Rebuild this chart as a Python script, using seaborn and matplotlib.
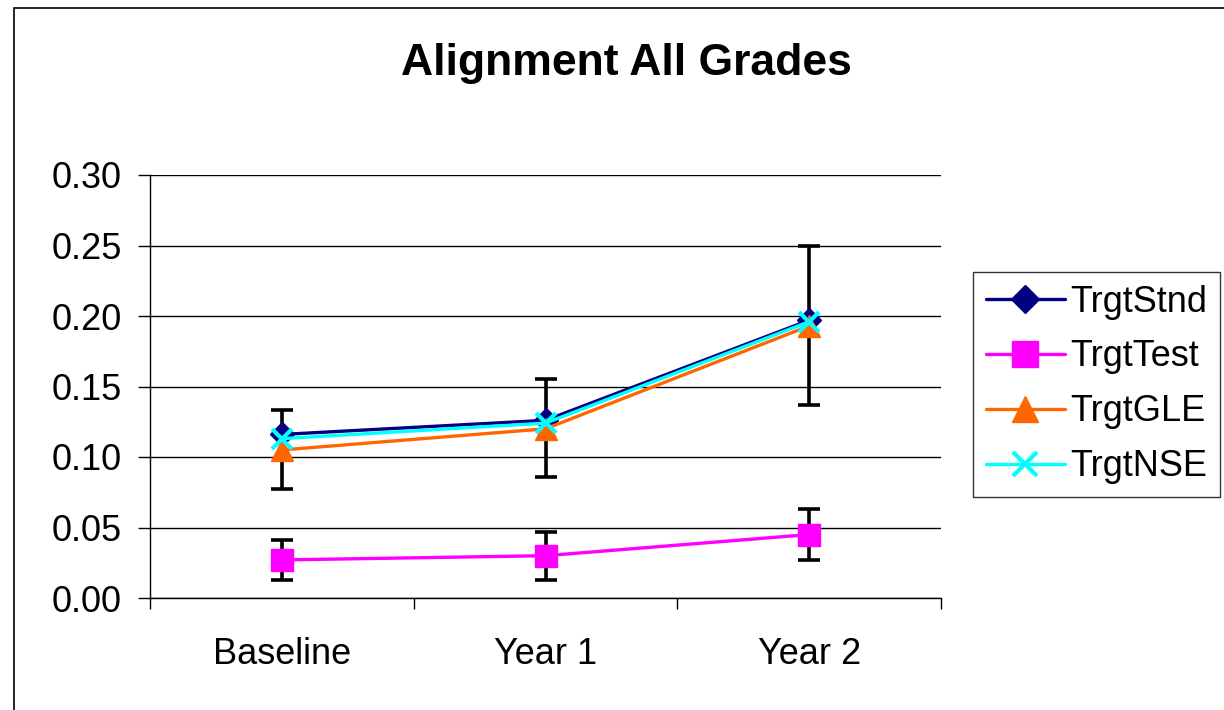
import numpy as np
import pandas as pd
import seaborn as sns
import matplotlib.pyplot as plt
from matplotlib.patches import Rectangle

periods = ["Baseline", "Year 1", "Year 2"]
trgt_stnd = [0.116, 0.126, 0.197]
trgt_test = [0.027, 0.030, 0.045]
trgt_gle = [0.105, 0.120, 0.193]
trgt_nse = [0.113, 0.124, 0.196]
# error bars (low / high ends)
err_low_all = [0.077, 0.086, 0.137]
err_high_all = [0.133, 0.155, 0.250]
err_low_test = [0.013, 0.013, 0.027]
err_high_test = [0.041, 0.047, 0.063]

sns.set_style("white")
plt.rcParams['font.family'] = ['Liberation Sans', 'DejaVu Sans']
plt.rcParams['text.color'] = 'black'
plt.rcParams['xtick.color'] = 'black'
plt.rcParams['ytick.color'] = 'black'

fig = plt.figure(figsize=(12.24, 7.1), dpi=100)
ax = fig.add_axes([150/1224, 112/710, 791/1224, 423/710])

# outer chart border (clipped on right/bottom like the source)
fig.patches.append(Rectangle((14/1224, -0.1), 1.2, (702/710) + 0.1, transform=fig.transFigure,
                             fill=False, edgecolor='black', linewidth=1.2))

x = np.arange(len(periods))
mid_all = np.array(trgt_gle)
ax.errorbar(x, mid_all, yerr=[mid_all - np.array(err_low_all), np.array(err_high_all) - mid_all],
            fmt='none', ecolor='black', elinewidth=2.6, capsize=8, capthick=2.6, zorder=2)
mid_test = np.array(trgt_test)
ax.errorbar(x, mid_test, yerr=[mid_test - np.array(err_low_test), np.array(err_high_test) - mid_test],
            fmt='none', ecolor='black', elinewidth=2.6, capsize=8, capthick=2.6, zorder=2)

series = [
    ("TrgtStnd", trgt_stnd, "#000080", "D", 12),
    ("TrgtTest", trgt_test, "#FF00FF", "s", 16),
    ("TrgtGLE", trgt_gle, "#FF6600", "^", 16),
    ("TrgtNSE", trgt_nse, "#00FFFF", "x", 14),
]
for name, vals, col, mk, ms in series:
    df = pd.DataFrame({"period": periods, "value": vals})
    sns.lineplot(data=df, x="period", y="value", ax=ax, color=col, marker=mk, markersize=ms,
                 linewidth=2.4, label=name, markeredgecolor=col, markeredgewidth=3 if mk == 'x' else 1,
                 zorder=3, sort=False)

ax.set_xlim(-0.5, 2.5)
ax.set_ylim(0, 0.30)
ax.set_yticks(np.arange(0, 0.301, 0.05))
ax.set_yticklabels([f"{v:.2f}" for v in np.arange(0, 0.301, 0.05)])
ax.set_xticks([-0.5, 0.5, 1.5, 2.5])
ax.set_xticklabels([])
ax.set_xticks(x, minor=True)
ax.set_xticklabels(periods, minor=True)
ax.tick_params(axis='x', which='minor', bottom=False, length=0, labelsize=26, pad=28)
ax.tick_params(axis='x', which='major', bottom=True, length=8, width=1, direction='out')
ax.tick_params(axis='y', left=True, length=8.5, width=1, direction='out', labelsize=26, pad=12)
ax.set_xlabel("")
ax.set_ylabel("")
ax.grid(axis='y', color='black', linewidth=1)
ax.set_axisbelow(True)
for s in ['top', 'right']:
    ax.spines[s].set_visible(False)
for s in ['left', 'bottom']:
    ax.spines[s].set_color('black')
    ax.spines[s].set_linewidth(1)

leg = ax.legend(loc='upper left', bbox_to_anchor=(973/1224, 438/710), bbox_transform=fig.transFigure,
                fontsize=26, frameon=True, fancybox=False, edgecolor='black', borderpad=0.35,
                handlelength=2.2, handletextpad=0.15, labelspacing=0.55, borderaxespad=0,
                markerscale=1.2)
leg.get_frame().set_linewidth(1)

fig.text(626/1224, 647/710, "Alignment All Grades", ha='center', va='center', fontsize=32,
         fontweight='bold')

fig.savefig("out.png", dpi=100)
